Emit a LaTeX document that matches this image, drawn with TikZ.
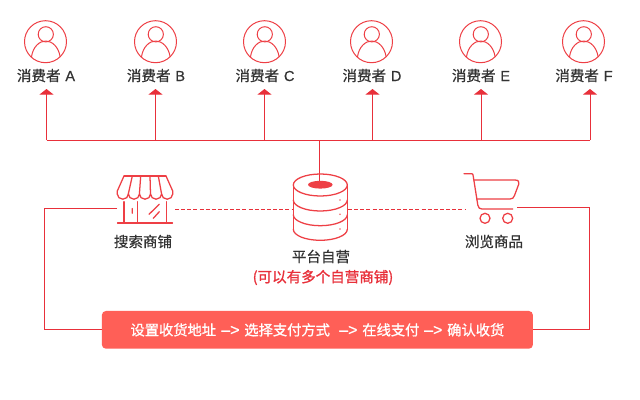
\documentclass[tikz,border=0pt]{standalone}
\usepackage{fontspec}
\usetikzlibrary{arrows.meta}
\setmainfont{Noto Sans CJK SC}
\newfontfamily\cjkmed[FakeBold=0.6]{Noto Sans CJK SC}
\newfontfamily\cjkbold[FakeBold=1]{Noto Sans CJK SC}
\newfontfamily\latf{Liberation Sans}
\newfontfamily\latb[FakeBold=0.6]{Liberation Sans}
\definecolor{linered}{HTML}{E8303A}
\definecolor{iconred}{HTML}{EE3F45}
\definecolor{boxred}{HTML}{FF5F57}
\definecolor{labelgrey}{HTML}{333333}
\newcommand{\gapx}[1]{\hspace*{#1pt}}
\newcommand{\flowarrow}{{\fontsize{12pt}{12pt}\selectfont\latb –>}}
\tikzset{
  wire/.style={draw=linered,line width=0.75pt},
  dashwire/.style={draw=linered,line width=0.6pt,dash pattern=on 3pt off 1.6pt},
  upwire/.style={wire,-{Triangle[width=10.5pt,length=4.2pt]}},
  icon/.style={draw=iconred,line width=0.75pt,line join=round,line cap=round},
  iconthick/.style={icon,line width=0.95pt},
  label/.style={font=\fontsize{10.9pt}{12pt}\selectfont\cjkmed,text=labelgrey,inner sep=0pt,anchor=center},
  redlabel/.style={font=\fontsize{10.9pt}{12pt}\selectfont\cjkbold,text=linered,inner sep=0pt,anchor=center},
  flowbox/.style={fill=boxred,rounded corners=3pt,text=white,minimum width=323.25pt,minimum height=28.3pt,inner sep=0pt,font=\fontsize{10.7pt}{12pt}\selectfont\cjkbold},
  person/.pic={
    \draw[icon] (0,0) circle[radius=21];
    \draw[icon] (0.3,-7.4) circle[radius=7.6];
    \draw[icon] (-14,15) .. controls (-12.5,5) and (-6,-0.7) .. (0.2,-0.7) .. controls (6.5,-0.7) and (13,5) .. (14.6,15);
  }
}
\begin{document}
\begin{tikzpicture}[x=0.75pt,y=-0.75pt]
\useasboundingbox (0,0) rectangle (640,400);
\fill[white] (0,0) rectangle (640,400);
% consumers
\pic at (45.5,41.7) {person};
\pic at (155.5,41.7) {person};
\pic at (264.5,41.7) {person};
\pic at (371.5,41.7) {person};
\pic at (480.5,41.7) {person};
\pic at (583.5,41.7) {person};
\node[label] (la) at (46,75.5) {消费者\hspace{3.6pt}{\latb A}};
\node[label] (lb) at (156,75.5) {消费者\hspace{3.6pt}{\latb B}};
\node[label] (lc) at (265,75.5) {消费者\hspace{3.6pt}{\latb C}};
\node[label] (ld) at (372,75.5) {消费者\hspace{3.6pt}{\latb D}};
\node[label] (le) at (481,75.5) {消费者\hspace{3.6pt}{\latb E}};
\node[label] (lf) at (584,75.5) {消费者\hspace{3.6pt}{\latb F}};
% bus
\coordinate (ta) at (46.5,89);
\coordinate (tb) at (155.5,89);
\coordinate (tc) at (264.5,89);
\coordinate (td) at (372.5,89);
\coordinate (te) at (481,89);
\coordinate (tf) at (590,89);
\coordinate (ba) at (46.5,140);
\coordinate (bb) at (155.5,140);
\coordinate (bc) at (264.5,140);
\coordinate (bd) at (372.5,140);
\coordinate (be) at (481,140);
\coordinate (bf) at (590,140);
\coordinate (bm) at (319.5,140);
\coordinate (dbtop) at (319.5,182);
\draw[wire] (ba) -- (bf);
\foreach \n in {a,b,c,d,e,f} \draw[upwire] (b\n) -- (t\n);
\draw[wire] (bm) -- (dbtop);
% store icon
\draw[iconthick] (124,176) -- (166,176);
\draw[iconthick] (124,176) -- (117.3,191) -- (117.3,194) (132.3,176) -- (128.3,194) (140.7,176) -- (139.4,194) (150,176) -- (150.5,194) (158.3,176) -- (161.6,194) (166,176) -- (172.7,191) -- (172.7,194);
\draw[iconthick] (117.3,194) arc[start angle=180,end angle=0,x radius=5.54,y radius=5.2] arc[start angle=180,end angle=0,x radius=5.54,y radius=5.2] arc[start angle=180,end angle=0,x radius=5.54,y radius=5.2] arc[start angle=180,end angle=0,x radius=5.54,y radius=5.2] arc[start angle=180,end angle=0,x radius=5.54,y radius=5.2];
\draw[iconthick] (124,201.7) -- (124,223) (137.3,201.7) -- (137.3,223) (166.7,201.7) -- (166.7,223);
\draw[iconthick] (117.5,223) -- (172.5,223);
\draw[iconthick] (132.3,208.5) -- (132.3,213.3) (149,214.3) -- (159.3,204.3) (153.3,218.3) -- (159.3,211.7);
\node[label] (store) at (143,241.5) {搜索商铺};
% database icon
\draw[iconthick] (293.3,185) -- (293.3,229.5) (347.3,185) -- (347.3,229.5);
\draw[iconthick] (320.3,185) ellipse[x radius=27,y radius=11];
\draw[iconthick] (293.3,200) arc[start angle=180,end angle=0,x radius=27,y radius=11];
\draw[iconthick] (293.3,214.7) arc[start angle=180,end angle=0,x radius=27,y radius=11];
\draw[iconthick] (293.3,229.3) arc[start angle=180,end angle=0,x radius=27,y radius=11];
\fill[iconred] (320.3,184.7) ellipse[x radius=12.3,y radius=3.9];
\fill[iconred!80] (340,200) circle[radius=0.9] (340,214.3) circle[radius=0.9] (340,229) circle[radius=0.9];
\node[label] (plat) at (321,256.5) {平台自营};
\node[redlabel] (platnote) at (323,277.5) {(可以有多个自营商铺)};
% cart icon
\draw[iconthick] (464,173.7) -- (472,173.7) .. controls (473,173.7) and (473,175) .. (473.2,176) -- (477.8,205) .. controls (478,208) and (480,209) .. (482,209) -- (512.7,209);
\draw[iconthick] (474,180) -- (515,180) .. controls (518.5,180) and (519.5,182) .. (518.8,184) -- (514.5,195.5) .. controls (513.5,198) and (512.5,199) .. (510,199) -- (476.7,199);
\draw[iconthick] (485,218.3) circle[radius=5] (507.7,218.3) circle[radius=5];
\node[label] (cart) at (494,241.5) {浏览商品};
% dashed
\coordinate (sr) at (175,209.5);
\coordinate (dl) at (293,209.5);
\coordinate (dr) at (348,209.5);
\coordinate (cl) at (466,209.5);
\draw[dashwire] (sr) -- (dl);
\draw[dashwire] (dr) -- (cl);
% flow
\node[flowbox] (flow) at (317.4,329.85) {\gapx{0}设置收货地址\gapx{3.9}\flowarrow\gapx{3.6}选择支付方式\gapx{7}\flowarrow\gapx{3.6}在线支付\gapx{3.6}\flowarrow\gapx{3.6}确认收货};
\coordinate (sl) at (117,208.5);
\coordinate (lc1) at (44,208.5);
\coordinate (cr) at (517,207.5);
\coordinate (rc1) at (589.5,207.5);
\draw[wire] (sl) -- (lc1) |- (flow.west);
\draw[wire] (cr) -- (rc1) |- (flow.east);
\end{tikzpicture}
\end{document}
